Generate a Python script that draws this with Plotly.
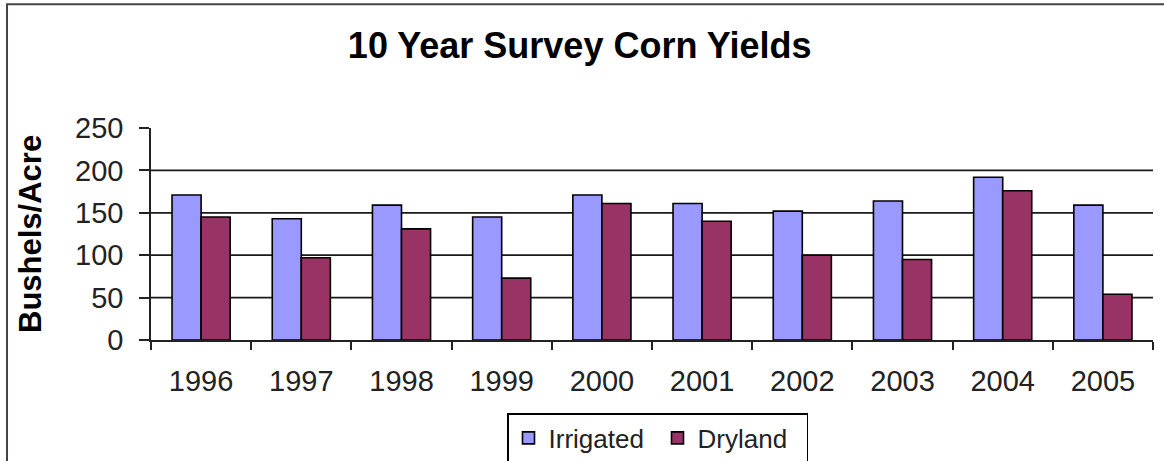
import plotly.graph_objects as go

years = ["1996", "1997", "1998", "1999", "2000", "2001", "2002", "2003", "2004", "2005"]
irrigated = [171, 143, 159, 145, 171, 161, 152, 164, 192, 159]
dryland = [145, 97, 131, 73, 161, 140, 100, 95, 176, 54]
y_ticks = [0, 50, 100, 150, 200, 250]
grid_vals = [50, 100, 150, 200]

FONT = "Liberation Sans, Arial, sans-serif"

fig = go.Figure()
fig.add_trace(go.Bar(x=years, y=irrigated, name="Irrigated",
                     marker=dict(color="#9999FF", line=dict(color="#000000", width=1.6))))
fig.add_trace(go.Bar(x=years, y=dryland, name="Dryland",
                     marker=dict(color="#993366", line=dict(color="#000000", width=1.6))))

shapes = []
for g in grid_vals:
    shapes.append(dict(type="line", xref="paper", yref="y", x0=0, x1=1, y0=g, y1=g,
                       line=dict(color="#1a1a1a", width=1.8), layer="below"))
# outer chart border
shapes.append(dict(type="rect", xref="paper", yref="paper", x0=-0.1437, x1=1.2, y0=-0.8, y1=1.5835,
                   line=dict(color="#444444", width=2), layer="below"))

fig.update_layout(
    width=1164, height=461,
    margin=dict(l=151, r=11, t=128, b=120.5),
    paper_bgcolor="white", plot_bgcolor="white",
    barmode="group", bargap=0.42, bargroupgap=0,
    title=dict(text="<b>10 Year Survey Corn Yields</b>", x=0.498, xanchor="center",
               y=1 - 45 / 461, yanchor="middle", yref="container",
               font=dict(family=FONT, size=36, color="black")),
    font=dict(family=FONT, color="black"),
    xaxis=dict(type="category", showgrid=False, showline=True, linecolor="#222222", linewidth=1.5,
               ticks="outside", tickson="boundaries", ticklen=8, tickwidth=1.5, tickcolor="#222222",
               tickfont=dict(family=FONT, size=29, color="#222222"), ticklabelstandoff=14,
               automargin=False),
    yaxis=dict(range=[0, 250], tickvals=y_ticks, showgrid=False, zeroline=False,
               showline=True, linecolor="#222222", linewidth=1.5,
               ticks="outside", ticklen=10, tickwidth=1.5, tickcolor="#222222",
               tickfont=dict(family=FONT, size=29, color="#222222"), ticklabelstandoff=10,
               automargin=False),
    showlegend=True,
    legend=dict(orientation="h", xref="container", yref="container",
                x=507 / 1164, y=1 - 413 / 461, xanchor="left", yanchor="top",
                bordercolor="#000000", borderwidth=1.5, bgcolor="white",
                font=dict(family=FONT, size=26, color="#222222"),
                itemwidth=30, entrywidth=104, traceorder="normal"),
    shapes=shapes,
    annotations=[dict(text="<b>Bushels/Acre</b>", xref="paper", yref="paper",
                      x=(30 - 151) / 1002, y=0.5, textangle=-90, showarrow=False,
                      xanchor="center", yanchor="middle",
                      font=dict(family=FONT, size=31, color="black"))],
)

fig.write_html("out.html", config={"displayModeBar": False},
               post_script="document.body.style.margin='0';document.body.style.overflow='hidden';")
